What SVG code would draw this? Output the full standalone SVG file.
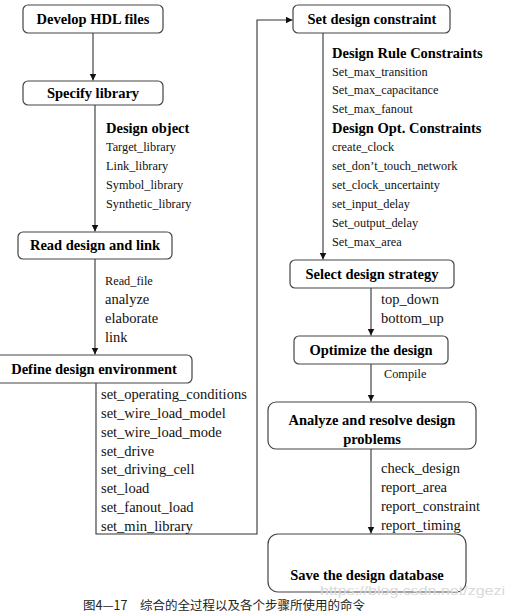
<svg xmlns="http://www.w3.org/2000/svg" width="509" height="612" viewBox="0 0 509 612">
<style>
.box{fill:#fff;stroke:#444;stroke-width:1.2}
text{font-family:'Liberation Serif','Times New Roman','DejaVu Serif',serif}
.t{font-weight:bold;font-size:14.5px;fill:#000;text-anchor:middle}
.b{font-weight:bold;font-size:14.5px;fill:#000}
.s{font-size:12.3px;fill:#111}
.m{font-size:14.5px;fill:#111}
.c{fill:none;stroke:#333;stroke-width:1.1}
</style>
<defs>
<marker id="arr" markerUnits="userSpaceOnUse" markerWidth="8" markerHeight="8" refX="7" refY="3.5" orient="auto">
<path d="M0,0 L7,3.5 L0,7 z" fill="#111"/>
</marker>
<clipPath id="clipA"><rect x="268" y="402" width="208" height="45" rx="8"/></clipPath>
</defs>
<rect width="509" height="612" fill="#fff"/>
<g id="connectors">
<path class="c" d="M93,33 V80.5" marker-end="url(#arr)"/>
<path class="c" d="M95,105 V231.5" marker-end="url(#arr)"/>
<path class="c" d="M95,259 V354.5" marker-end="url(#arr)"/>
<path class="c" d="M96,383 V534 H257 V20 H292.5" marker-end="url(#arr)"/>
<path class="c" d="M323,33 V259.5" marker-end="url(#arr)"/>
<path class="c" d="M371,288 V335.5" marker-end="url(#arr)"/>
<path class="c" d="M371,364 V401.5" marker-end="url(#arr)"/>
<path class="c" d="M371,449 V533.5" marker-end="url(#arr)"/>
</g>
<g id="n1"><rect class="box" x="23" y="5" width="140" height="28" rx="5"/><text class="t" x="93" y="24">Develop HDL files</text></g>
<g id="n2"><rect class="box" x="23" y="81" width="140" height="24" rx="5"/><text class="t" x="93" y="98">Specify library</text>
<text class="b" x="106" y="133">Design object</text>
<text class="s" x="106" y="151">Target_library</text>
<text class="s" x="106" y="170">Link_library</text>
<text class="s" x="106" y="189">Symbol_library</text>
<text class="s" x="106" y="208">Synthetic_library</text></g>
<g id="n3"><rect class="box" x="18" y="232" width="154" height="27" rx="5"/><text class="t" x="95" y="250">Read design and link</text>
<text class="s" x="105" y="285">Read_file</text>
<text class="m" x="105" y="304">analyze</text>
<text class="m" x="105" y="323">elaborate</text>
<text class="m" x="105" y="342">link</text></g>
<g id="n4"><rect class="box" x="-6" y="355" width="198" height="28" rx="5"/><text class="t" x="94" y="374">Define design environment</text>
<text class="m" x="101" y="399">set_operating_conditions</text>
<text class="m" x="101" y="418">set_wire_load_model</text>
<text class="m" x="101" y="437">set_wire_load_mode</text>
<text class="m" x="101" y="456">set_drive</text>
<text class="m" x="101" y="474">set_driving_cell</text>
<text class="m" x="101" y="493">set_load</text>
<text class="m" x="101" y="512">set_fanout_load</text>
<text class="m" x="101" y="531">set_min_library</text></g>
<g id="n5"><rect class="box" x="293" y="5" width="157" height="28" rx="5"/><text class="t" x="372" y="24">Set design constraint</text>
<text class="b" x="332" y="58">Design Rule Constraints</text>
<text class="s" x="332" y="76">Set_max_transition</text>
<text class="s" x="332" y="94">Set_max_capacitance</text>
<text class="s" x="332" y="113">Set_max_fanout</text>
<text class="b" x="332" y="133">Design Opt. Constraints</text>
<text class="s" x="332" y="151">create_clock</text>
<text class="s" x="332" y="170">set_don’t_touch_network</text>
<text class="s" x="332" y="189">set_clock_uncertainty</text>
<text class="s" x="332" y="208">set_input_delay</text>
<text class="s" x="332" y="227">Set_output_delay</text>
<text class="s" x="332" y="246">Set_max_area</text></g>
<g id="n6"><rect class="box" x="290" y="260" width="164" height="28" rx="5"/><text class="t" x="372" y="279">Select design strategy</text>
<text class="m" x="381" y="304">top_down</text>
<text class="m" x="381" y="323">bottom_up</text></g>
<g id="n7"><rect class="box" x="294" y="336" width="154" height="28" rx="5"/><text class="t" x="371" y="355">Optimize the design</text>
<text class="s" x="384" y="378">Compile</text></g>
<g id="n8"><rect class="box" x="268" y="402" width="208" height="47" rx="8"/>
<g clip-path="url(#clipA)"><text class="t" x="372" y="425">Analyze and resolve design</text><text class="t" x="372" y="444">problems</text></g>
<text class="m" x="381" y="473">check_design</text>
<text class="m" x="381" y="492">report_area</text>
<text class="m" x="381" y="511">report_constraint</text>
<text class="m" x="381" y="530">report_timing</text></g>
<g id="n9"><rect class="box" x="268" y="534" width="198" height="58" rx="10"/><text class="t" x="367" y="580">Save the design database</text></g>
<text x="320" y="595" style="font-family:'Liberation Sans',Arial,sans-serif" font-size="13" fill="#d9d9d9" textLength="185" lengthAdjust="spacingAndGlyphs">https://blog.csdn.net/zgezi</text>
<text x="83" y="609.5" style="font-family:'Noto Sans CJK SC',sans-serif" font-size="12.5" fill="#222">图4—17　综合的全过程以及各个步骤所使用的命令</text>
</svg>
